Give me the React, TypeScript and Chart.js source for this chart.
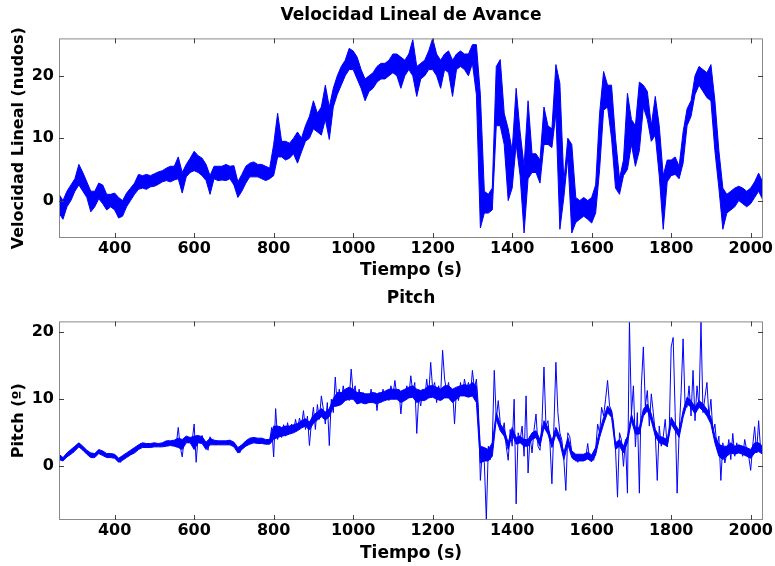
import React, { useEffect, useRef } from "react";
import { Chart, registerables } from "chart.js";

Chart.register(...registerables);

const xTicks = [400, 600, 800, 1000, 1200, 1400, 1600, 1800, 2000];
const speedTicks = [0, 10, 20];
const pitchTicks = [0, 10, 20];

// Velocidad lineal (nudos): max / min of the signal in 10 s bins, starting at t = 260 s
const binStart = 260;
const binStep = 10;
const speedHi260 = [1, 0, 1.5, 2.5, 3.5, 5.8, 4.5, 3, 1.5, 1.5];
const speedLo260 = [-2, -3, -1, 0, 1.5, 2.5, 1.5, 0.5, -1.8, -1];
const speedHi360 = [2.8, 2.5, 1, 1, 1.2, 0.5, 0, 1.2, 2, 2.8];
const speedLo360 = [0.3, -0.5, -1.5, -1, -1.5, -2.8, -2.5, -1, 0, 1];
const speedHi460 = [4.2, 4, 4.2, 4, 4.3, 4.6, 4.8, 5.2, 5.5, 5.5];
const speedLo460 = [1.8, 2, 1.8, 2.2, 2.3, 2.6, 3, 3.2, 3, 3.3];
const speedHi560 = [7, 4.5, 5.8, 6.8, 7.9, 7.2, 6.8, 5.8, 4, 5.5];
const speedLo560 = [3.5, 1.2, 3.8, 4.5, 4.8, 4.5, 4, 3.2, 1, 3.5];
const speedHi660 = [5.5, 5.5, 5.8, 5.5, 5.6, 3, 4.2, 5.5, 6, 6.2];
const speedLo660 = [3.2, 3.3, 3.2, 3.5, 2.5, 0.5, 1.5, 2.8, 3.8, 3.8];
const speedHi760 = [5.8, 5.8, 5.5, 5.2, 9, 14, 9.5, 9.5, 9.2, 10];
const speedLo760 = [3.8, 3.5, 3.2, 3.5, 4, 7, 7, 6.5, 6.8, 7.5];
const speedHi860 = [11, 10, 12, 13.5, 16, 14, 15, 18.5, 15, 18];
const speedLo860 = [6, 7.8, 9.5, 10, 11.5, 11, 10.5, 13, 9.8, 15];
const speedHi960 = [20, 21.5, 22.5, 24.4, 24, 23, 21, 19.5, 20, 20.5];
const speedLo960 = [17, 18.5, 20, 21, 21, 19.5, 18, 16, 17.5, 18];
const speedHi1060 = [21.5, 22, 22, 22.5, 23.5, 23.5, 23, 22.5, 23.5, 25.8];
const speedLo1060 = [19, 19.5, 19.5, 20, 20.5, 20, 18, 20, 21, 20];
const speedHi1160 = [21.5, 22, 22.5, 24, 26, 23.5, 22.5, 23.5, 24, 22.5];
const speedLo1160 = [16.7, 19.5, 20, 21, 21, 20, 18, 21, 20.5, 16.7];
const speedHi1260 = [23.5, 24, 23.5, 23.5, 25, 25, 17, 1.5, 1, 2];
const speedLo1260 = [21, 21.5, 21, 20, 22, 17, -4.4, -2, -2, -1.5];
const speedHi1360 = [21.5, 22.6, 14, 11.5, 8, 18, 11, 5.5, 16, 7.5];
const speedLo1360 = [12, 12, 9, 0, 2, 9, 4, -5.2, 3.5, 4.5];
const speedHi1460 = [7.5, 6.5, 15, 12, 11.5, 21.8, 18.8, 3, 10, 9];
const speedLo1460 = [4.5, 2.8, 9, 9, 8.5, 14, -4.6, 0.5, 7, -5.2];
const speedHi1560 = [0.5, 0, 0.5, 0, 0.5, 2.5, 14, 20.7, 18.5, 18.5];
const speedLo1560 = [-3.5, -3, -2.5, -3, -3.6, -2, 5, 14.5, 15, 10];
const speedHi1660 = [10, 3.5, 6.5, 17.2, 13, 12, 19, 18.5, 17.5, 12];
const speedLo1660 = [2, 1, 4, 5, 9, 5.5, 8, 15, 13, 9.5];
const speedHi1760 = [16.7, 12, 4, 6.5, 6.5, 7, 5.5, 11, 14.7, 16];
const speedLo1760 = [10.5, 4, -4.6, 3, 4, 4.2, 3.5, 6, 12, 13.5];
const speedHi1860 = [20, 21.5, 21, 20.5, 21.8, 16, 8, 2, 1, 1.5];
const speedLo1860 = [17, 18.5, 17.5, 16.5, 16, 8, 2, -4.6, -2, -1.5];
const speedHi1960 = [2, 2.3, 2, 1.5, 2, 3, 4.4, 3];
const speedLo1960 = [-1, 0, -0.5, -1, -0.5, 0.5, 1.5, 0.2];

// Pitch (º): dense core band (10 s bins, from t = 260 s)
const pitchHi260 = [1.8, 1.3, 2, 2.5, 3, 3.5, 3, 2.4, 2, 1.9];
const pitchLo260 = [1, 0.8, 1.4, 1.8, 2.3, 2.9, 2.4, 1.8, 1.3, 1.3];
const pitchHi360 = [2.5, 2.3, 1.9, 1.9, 1.8, 1.2, 1.6, 2, 2.4, 2.8];
const pitchLo360 = [1.9, 1.6, 1.3, 1.3, 1.2, 0.6, 0.9, 1.3, 1.7, 2];
const pitchHi460 = [3.2, 3.5, 3.4, 3.4, 3.5, 3.4, 3.5, 3.8, 3.8, 3.9];
const pitchLo460 = [2.5, 2.8, 2.8, 2.8, 2.9, 2.9, 2.9, 3, 3.1, 3];
const pitchHi560 = [4.2, 4, 4.5, 4.3, 4.5, 4.6, 4.4, 3.6, 4.2, 3.9];
const pitchLo560 = [2.8, 2.5, 3.5, 3.5, 2.5, 3.5, 3.4, 2.5, 3.2, 3.2];
const pitchHi660 = [3.8, 3.8, 3.8, 3.9, 3.6, 2.8, 3.2, 3.8, 4.2, 4.3];
const pitchLo660 = [3.2, 3.2, 3.2, 3.2, 2.9, 2, 2.5, 3, 3.3, 3.5];
const pitchHi760 = [4.2, 4.2, 4, 4, 6, 6, 5.8, 6, 6, 6.2];
const pitchLo760 = [3.4, 3.4, 3.3, 3.3, 4, 4.3, 4.5, 4.6, 4.8, 5];
const pitchHi860 = [6.4, 6.8, 7.1, 6.6, 7.6, 8.1, 8.6, 8.1, 8.6, 10.1];
const pitchLo860 = [5.3, 5.7, 6, 5.4, 6.4, 6.9, 7.4, 6.9, 7.4, 8.9];
const pitchHi960 = [11, 11, 11.5, 11.8, 11.5, 11, 11, 10.8, 10.8, 11];
const pitchLo960 = [9, 9.2, 9.8, 10, 10, 9.3, 9.5, 9.3, 9.5, 9.5];
const pitchHi1060 = [10.8, 11, 11.2, 11.5, 11.5, 11.5, 11.2, 11.5, 11.8, 12];
const pitchLo1060 = [9.3, 9.6, 9.8, 10, 10, 10, 9.5, 9.8, 10.2, 10.3];
const pitchHi1160 = [11.5, 11.3, 11.5, 12, 12, 11.8, 11.5, 12, 12, 11.5];
const pitchLo1160 = [9.5, 9.8, 9.8, 10.2, 10.3, 10, 9.8, 10.2, 10.2, 9.5];
const pitchHi1260 = [11.8, 12, 12.2, 12, 12.5, 12, 3, 2.8, 2.5, 3.5];
const pitchLo1260 = [10, 10.5, 10.5, 10.3, 10.5, 9.5, 0.5, 0.8, 0.8, 1.5];
const pitchHi1360 = [8, 6.3, 5.5, 3.5, 5.8, 4.3, 4.5, 4, 4, 5];
const pitchLo1360 = [7, 5.3, 4.5, 2.5, 4.8, 3.3, 3.5, 3, 3, 4];
const pitchHi1460 = [5.3, 4, 6.8, 5.8, 3.8, 5.8, 4.5, 2, 4.3, 2.3];
const pitchLo1460 = [4.3, 3, 5.8, 4.8, 2.8, 4.8, 3.5, 1, 3.3, 1.3];
const pitchHi1560 = [1.8, 1.8, 1.8, 2.1, 1.7, 2.8, 5.3, 7.3, 9, 8.3];
const pitchLo1560 = [0.8, 0.8, 0.8, 1.1, 0.7, 1.7, 4.3, 6.3, 8, 7.3];
const pitchHi1660 = [3.5, 4, 3, 4.5, 7.8, 5.8, 5.8, 8.5, 9.3, 7.8];
const pitchLo1660 = [2.5, 3, 2, 3.5, 6.8, 4.8, 4.8, 7.5, 8.3, 6.8];
const pitchHi1760 = [5.5, 4.5, 4.3, 4, 7.3, 6.3, 5.3, 8.3, 10.3, 9.8];
const pitchLo1760 = [4.5, 3.5, 3.3, 3, 6.3, 5.3, 4.3, 7.3, 9.3, 8.8];
const pitchHi1860 = [8.8, 9.8, 9.3, 8.5, 7.3, 4.5, 3.3, 3, 3, 3.5];
const pitchLo1860 = [7.8, 8.8, 8.3, 7.5, 6.3, 3.5, 1.5, 1, 1.5, 2];
const pitchHi1960 = [3, 3.2, 3, 2.8, 2.5, 3.5, 3.5, 3];
const pitchLo1960 = [1.8, 2, 1.8, 1.5, 1.2, 2, 2.2, 1.8];

// Pitch (º): spikes, one value every 5 s starting at t = 260 s
const pitchStart = 260;
const pitchStep = 5;
const pitch260 = [1.5, 1, 0.9, 1.5, 1.6, 2, 2.4, 2, 2.8, 3.2, 3.4, 3, 2.6, 2.2, 2, 1.8, 1.5, 1.3, 1.8, 2];
const pitch360 = [2.4, 2.2, 1.8, 2, 1.6, 1.5, 1.8, 1.4, 1.7, 1.5, 0.8, 0.6, 1.2, 1.8, 1.4, 2, 2.2, 1.9, 2.4, 2.6];
const pitch460 = [2.8, 3.4, 3, 3.2, 2.8, 3.3, 3.1, 3, 3.3, 3, 3.2, 3, 3.3, 3.1, 3.4, 3.8, 3.6, 3.2, 3.5, 3.3];
const pitch560 = [5.8, 2.9, 1.4, 4, 4.4, 3.5, 4.2, 3.8, 6.3, 0.6, 4.5, 4, 4.6, 3.5, 3, 2.4, 4.4, 3.5, 3.8, 3.2];
const pitch660 = [3.6, 3.3, 3.7, 3.4, 3.6, 3.2, 3.8, 3.3, 3.5, 3, 2.2, 2, 2.8, 3.2, 3.6, 3.3, 4, 3.6, 4.3, 3.7];
const pitch760 = [4, 3.5, 4.2, 3.6, 3.9, 3.4, 3.8, 5.8, 1.4, 8.6, 4, 6, 4.3, 6.2, 4.5, 6.5, 5, 6.3, 5.2, 7];
const pitch860 = [5.5, 7.2, 6, 8.3, 5.5, 7.5, 3.1, 6.5, 8.8, 5.5, 9.2, 7, 10.5, 8.5, 6.3, 9.5, 3.1, 10, 8, 13.3];
const pitch960 = [9, 11.5, 9.5, 12, 10, 11.5, 9.8, 14.5, 10.8, 12, 9.3, 11.5, 9.5, 11, 9.8, 10.5, 9.5, 11.5, 9.8, 11];
const pitch1060 = [8.3, 11, 9.5, 11.5, 10, 11.3, 9.8, 12, 10.5, 12.8, 10.5, 11.5, 7.8, 11, 10, 12, 10.5, 13.5, 11, 12.5];
const pitch1160 = [4.9, 10.5, 9, 11.5, 10, 13, 10.5, 15.5, 11.5, 12.5, 9.5, 12, 10.5, 17.3, 13, 11.3, 12.5, 10, 11.5, 6.3];
const pitch1260 = [11.5, 9.8, 12.5, 10.5, 13, 11.5, 12.5, 10.5, 14.3, 11.5, 13, 8.8, -2.1, 2.4, 0.5, -8, 3, 1, 3.5, 14.3];
const pitch1360 = [7, 9.8, 6.5, 5, 6.5, 3, 0.9, 5.5, 3, 10, -5.6, 5, 3.9, 6, 1.5, 10.5, -1, 4.5, 2, 5.4];
const pitch1460 = [7.8, 3, 2.4, 6.5, 14.8, 6, 6.8, 3.5, -2.6, 6, 15.5, 8, 5, 3.9, 1, -3.6, 5, 4.4, 2, 1];
const pitch1560 = [1.5, 0.6, 1.4, 0.8, 1.8, 1.2, 3.4, 1, 1.6, 0.9, 2.5, 6.3, 5, 8.8, 7.5, 10, 12.8, 9, 8.3, 6.5];
const pitch1660 = [2.5, -4.6, 5, 3.9, 0, 4, -4, 21.5, 7.8, 12, 2.9, 8, -4, 12, 17.8, 9, 11.3, 6, 10.8, 8];
const pitch1760 = [5, -2.1, 6, 3, 4.4, 7, 2.9, 5, 17.8, 19.2, 8, -4, 5, 11, 19, 9, 8.8, 12, 7.5, 14.3];
const pitch1860 = [6.8, 12, 9, 21.5, 8, 10.3, 12.5, 7.3, 10, 5, 6.3, 3, 4.5, -2.1, 3.5, 0.5, 1.9, 4, 1, 4.9];
const pitch1960 = [1.5, 3.5, 2, 2.9, 1.5, 4, 2.4, 1.5, -0.6, 3, 5.9, 2, 6.8, 2.5, 1.9];

const speedHi = [
  ...speedHi260, ...speedHi360, ...speedHi460, ...speedHi560, ...speedHi660, ...speedHi760,
  ...speedHi860, ...speedHi960, ...speedHi1060, ...speedHi1160, ...speedHi1260, ...speedHi1360,
  ...speedHi1460, ...speedHi1560, ...speedHi1660, ...speedHi1760, ...speedHi1860, ...speedHi1960,
];
const speedLo = [
  ...speedLo260, ...speedLo360, ...speedLo460, ...speedLo560, ...speedLo660, ...speedLo760,
  ...speedLo860, ...speedLo960, ...speedLo1060, ...speedLo1160, ...speedLo1260, ...speedLo1360,
  ...speedLo1460, ...speedLo1560, ...speedLo1660, ...speedLo1760, ...speedLo1860, ...speedLo1960,
];
const pitchHi = [
  ...pitchHi260, ...pitchHi360, ...pitchHi460, ...pitchHi560, ...pitchHi660, ...pitchHi760,
  ...pitchHi860, ...pitchHi960, ...pitchHi1060, ...pitchHi1160, ...pitchHi1260, ...pitchHi1360,
  ...pitchHi1460, ...pitchHi1560, ...pitchHi1660, ...pitchHi1760, ...pitchHi1860, ...pitchHi1960,
];
const pitchLo = [
  ...pitchLo260, ...pitchLo360, ...pitchLo460, ...pitchLo560, ...pitchLo660, ...pitchLo760,
  ...pitchLo860, ...pitchLo960, ...pitchLo1060, ...pitchLo1160, ...pitchLo1260, ...pitchLo1360,
  ...pitchLo1460, ...pitchLo1560, ...pitchLo1660, ...pitchLo1760, ...pitchLo1860, ...pitchLo1960,
];
const pitchValues = [
  ...pitch260, ...pitch360, ...pitch460, ...pitch560, ...pitch660, ...pitch760,
  ...pitch860, ...pitch960, ...pitch1060, ...pitch1160, ...pitch1260, ...pitch1360,
  ...pitch1460, ...pitch1560, ...pitch1660, ...pitch1760, ...pitch1860, ...pitch1960,
];

const FONT = "'DejaVu Sans', 'Liberation Sans', Arial, sans-serif";
const BLUE = "#0000ff";

const matlabBox = {
  id: "matlabBox",
  afterDatasetsDraw(chart: any) {
    const { ctx, chartArea: a, scales } = chart;
    ctx.save();
    ctx.strokeStyle = "#8a8a8a";
    ctx.lineWidth = 1;
    ctx.strokeRect(a.left + 0.5, a.top + 0.5, a.right - a.left - 1, a.bottom - a.top - 1);
    ctx.strokeStyle = "#404040";
    ctx.beginPath();
    const tl = 5;
    scales.x.ticks.forEach((t: any) => {
      const px = Math.round(scales.x.getPixelForValue(t.value)) + 0.5;
      ctx.moveTo(px, a.bottom);
      ctx.lineTo(px, a.bottom - tl);
      ctx.moveTo(px, a.top);
      ctx.lineTo(px, a.top + tl);
    });
    scales.y.ticks.forEach((t: any) => {
      const py = Math.round(scales.y.getPixelForValue(t.value)) + 0.5;
      ctx.moveTo(a.left, py);
      ctx.lineTo(a.left + tl, py);
      ctx.moveTo(a.right, py);
      ctx.lineTo(a.right - tl, py);
    });
    ctx.stroke();
    ctx.restore();
  },
};

function makeOptions(title: string, yTitle: string, yMin: number, yMax: number, yTicks: number[], xAxisHeight: number): any {
  return {
    animation: false,
    responsive: false,
    devicePixelRatio: 1,
    parsing: false,
    layout: { padding: { left: 0, right: 12, top: 0, bottom: 0 } },
    plugins: {
      legend: { display: false },
      tooltip: { enabled: false },
      title: {
        display: true,
        text: title,
        fullSize: false,
        color: "#000",
        font: { family: FONT, size: 17, weight: "bold" },
        padding: { top: 5, bottom: 13 },
      },
    },
    scales: {
      x: {
        type: "linear",
        min: 260,
        max: 2031,
        grid: { display: false, drawTicks: false, tickLength: 0 },
        border: { display: false },
        afterBuildTicks: (s: any) => {
          s.ticks = xTicks.map((v) => ({ value: v }));
        },
        afterFit: (s: any) => {
          s.height = xAxisHeight;
          s.paddingLeft = 0;
          s.paddingRight = 0;
        },
        ticks: {
          color: "#000",
          padding: 1,
          maxRotation: 0,
          autoSkip: false,
          callback: (v: any) => String(v),
          font: { family: FONT, size: 16, weight: "bold" },
        },
        title: {
          display: true,
          text: "Tiempo (s)",
          color: "#000",
          font: { family: FONT, size: 17, weight: "bold" },
          padding: { top: 0, bottom: 2 },
        },
      },
      y: {
        type: "linear",
        min: yMin,
        max: yMax,
        grid: { display: false, drawTicks: false, tickLength: 0 },
        border: { display: false },
        afterBuildTicks: (s: any) => {
          s.ticks = yTicks.map((v) => ({ value: v }));
        },
        afterFit: (s: any) => {
          s.width = 59;
          s.paddingTop = 0;
          s.paddingBottom = 0;
        },
        ticks: {
          color: "#000",
          padding: 5,
          autoSkip: false,
          callback: (v: any) => String(v),
          font: { family: FONT, size: 16, weight: "bold" },
        },
        title: {
          display: true,
          text: yTitle,
          color: "#000",
          font: { family: FONT, size: 16, weight: "bold" },
          padding: { top: 9, bottom: 0 },
        },
      },
    },
  };
}

function bandDatasets(hi: number[], lo: number[]): any[] {
  const top = hi.map((v, i) => ({ x: binStart + i * binStep, y: v }));
  const bottom = lo.map((v, i) => ({ x: binStart + i * binStep, y: v }));
  return [
    { data: top, borderColor: BLUE, borderWidth: 1, pointRadius: 0, tension: 0, fill: false },
    { data: bottom, borderColor: BLUE, borderWidth: 1, pointRadius: 0, tension: 0, fill: "-1", backgroundColor: BLUE },
  ];
}

function speedConfig(): any {
  return {
    type: "line",
    data: { datasets: bandDatasets(speedHi, speedLo) },
    options: makeOptions("Velocidad Lineal de Avance", "Velocidad Lineal (nudos)", -6, 26, speedTicks, 45),
    plugins: [matlabBox],
  };
}

function pitchConfig(): any {
  const spikes = pitchValues.map((v, i) => ({ x: pitchStart + i * pitchStep, y: v }));
  return {
    type: "line",
    data: {
      datasets: [
        ...bandDatasets(pitchHi, pitchLo),
        { data: spikes, borderColor: BLUE, borderWidth: 1, pointRadius: 0, tension: 0, fill: false },
      ],
    },
    options: makeOptions("Pitch", "Pitch (º)", -8, 21.6, pitchTicks, 46),
    plugins: [matlabBox],
  };
}

function ChartPanel(props: { make: () => any; top: number }) {
  const ref = useRef<HTMLCanvasElement | null>(null);
  useEffect(() => {
    if (!ref.current) return;
    const chart = new Chart(ref.current, props.make());
    return () => chart.destroy();
  }, []);
  return (
    <canvas
      ref={ref}
      width={775}
      height={283}
      style={{ position: "absolute", left: 0, top: props.top, width: 775, height: 283 }}
    />
  );
}

export default function App() {
  return (
    <div style={{ position: "absolute", left: 0, top: 0, width: 775, height: 566, background: "#fff" }}>
      <ChartPanel make={speedConfig} top={0} />
      <ChartPanel make={pitchConfig} top={283} />
    </div>
  );
}
